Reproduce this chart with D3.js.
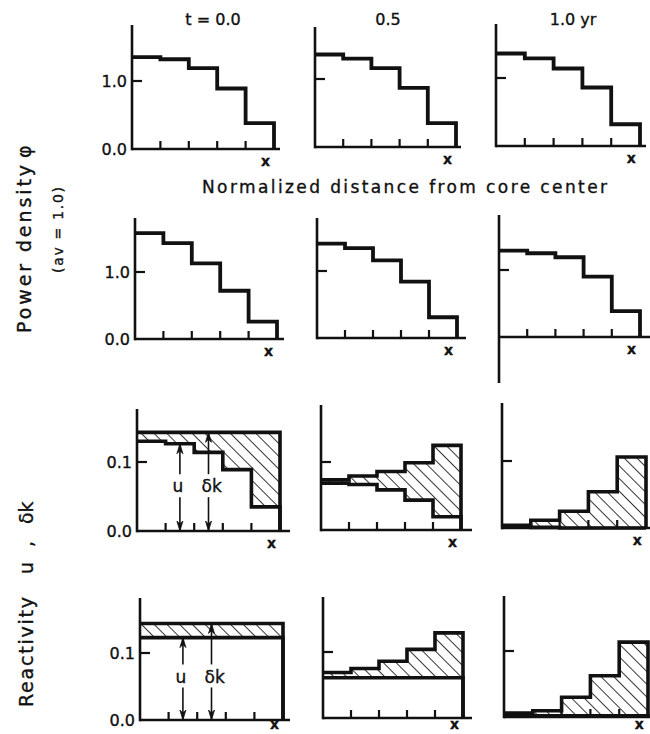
<!DOCTYPE html>
<html>
<head>
<meta charset="utf-8">
<script src="https://cdn.jsdelivr.net/npm/d3@7/dist/d3.min.js"></script>
<style>
  html, body { margin: 0; padding: 0; background: #fff; }
  svg { display: block; }
  text { font-family: "DejaVu Sans", "Liberation Sans", sans-serif; fill: #111; stroke: #111; stroke-width: 0.35px; }
</style>
</head>
<body>
<script>
// ---- data -------------------------------------------------------------
// five radial zones from core centre (0) to edge (x)
const zones = [0, 1, 2, 3, 4];
const timeLabels = ["t = 0.0", "0.5", "1.0 yr"];

const phiTickValues = [0.0, 1.0];
const phiTickLabels = ["0.0", "1.0"];
const reactTickValues = [0.0, 0.1];
const reactTickLabels = ["0.0", "0.1"];

// power density, first scheme (columns: t = 0.0, 0.5, 1.0 yr)
const phiFirst = [
  [1.35, 1.32, 1.19, 0.89, 0.38],
  [1.36, 1.30, 1.16, 0.87, 0.35],
  [1.36, 1.29, 1.14, 0.86, 0.32]
];
// power density, second scheme
const phiSecond = [
  [1.58, 1.43, 1.13, 0.72, 0.26],
  [1.41, 1.34, 1.16, 0.84, 0.31],
  [1.29, 1.25, 1.19, 0.90, 0.385]
];
// reactivity, first scheme: u (lower) and δk (upper)
const uFirst = [
  [0.130, 0.1265, 0.114, 0.089, 0.035],
  [0.069, 0.067, 0.059, 0.044, 0.0195],
  [0.002, 0.001, 0.000, 0.000, 0.000]
];
const dkFirst = [
  [0.143, 0.143, 0.143, 0.143, 0.143],
  [0.074, 0.0795, 0.086, 0.099, 0.1245],
  [0.004, 0.0115, 0.025, 0.054, 0.106]
];
// reactivity, second scheme
const uSecond = [
  [0.123, 0.123, 0.123, 0.123, 0.123],
  [0.061, 0.061, 0.061, 0.061, 0.061],
  [0.002, 0.002, 0.002, 0.002, 0.002]
];
const dkSecond = [
  [0.144, 0.144, 0.144, 0.144, 0.144],
  [0.069, 0.075, 0.086, 0.104, 0.129],
  [0.006, 0.0095, 0.030, 0.0625, 0.1134]
];

// ---- layout -------------------------------------------------------------
// per panel: y-axis x, right edge of last zone, baseline y, y of upper tick,
// top of y-axis, right end of x-axis
const frames = [
  [ {x0:132, x1:274, base:149, tickY:81,  top:25,  xEnd:280},
    {x0:315, x1:456, base:147, tickY:79,  top:27,  xEnd:461},
    {x0:496, x1:640, base:146, tickY:78,  top:24,  xEnd:646} ],
  [ {x0:135, x1:277, base:339, tickY:272, top:218, xEnd:284},
    {x0:317, x1:457, base:338, tickY:271, top:218, xEnd:466},
    {x0:499, x1:640, base:337, tickY:270, top:215, xEnd:650, axisBottom:383} ],
  [ {x0:137, x1:280, base:531, tickY:462, top:409, xEnd:290},
    {x0:321, x1:461, base:530, tickY:462, top:405, xEnd:472},
    {x0:502, x1:646, base:528, tickY:461, top:403, xEnd:650} ],
  [ {x0:140, x1:283, base:720, tickY:653, top:598, xEnd:290},
    {x0:323, x1:463, base:718, tickY:652, top:597, xEnd:472},
    {x0:504, x1:648, base:717, tickY:651, top:596, xEnd:650} ]
];
const titleX = [213, 388, 573];

const INK = "#111";
const svg = d3.select("body").append("svg")
  .attr("width", 650).attr("height", 734);

// diagonal hatching for the band between u and δk
const defs = svg.append("defs");
defs.append("pattern")
  .attr("id", "hatch")
  .attr("patternUnits", "userSpaceOnUse")
  .attr("width", 9).attr("height", 9)
  .attr("patternTransform", "rotate(-45)")
  .append("line")
  .attr("x1", 0).attr("y1", 0).attr("x2", 0).attr("y2", 9)
  .attr("stroke", INK).attr("stroke-width", 1.7);

function makeScales(f, tickVal) {
  const x = d3.scaleLinear().domain([0, zones.length]).range([f.x0, f.x1]);
  const y = d3.scaleLinear().domain([0, tickVal]).range([f.base, f.tickY]);
  return {x, y};
}

function drawFrame(g, f, sc, tickVals, tickLabels, withLabels) {
  // x axis with zone boundary ticks
  g.append("line")
    .attr("x1", f.x0).attr("x2", f.xEnd)
    .attr("y1", f.base).attr("y2", f.base)
    .attr("stroke", INK).attr("stroke-width", 2.6);
  g.selectAll(".xt").data(zones.slice(1)).enter().append("line")
    .attr("x1", d => sc.x(d)).attr("x2", d => sc.x(d))
    .attr("y1", f.base).attr("y2", f.base - 8)
    .attr("stroke", INK).attr("stroke-width", 2.2);
  // y axis with inward tick
  g.append("line")
    .attr("x1", f.x0).attr("x2", f.x0)
    .attr("y1", f.top).attr("y2", f.axisBottom || f.base + 1.3)
    .attr("stroke", INK).attr("stroke-width", 2.6);
  g.append("line")
    .attr("x1", f.x0).attr("x2", f.x0 + 10)
    .attr("y1", sc.y(tickVals[1])).attr("y2", sc.y(tickVals[1]))
    .attr("stroke", INK).attr("stroke-width", 2.2);
  if (withLabels) {
    g.selectAll(".yl").data(tickVals).enter().append("text")
      .attr("x", f.x0 - 5)
      .attr("y", d => sc.y(d))
      .attr("dy", "0.36em")
      .attr("text-anchor", "end")
      .attr("font-size", 16)
      .text((d, i) => tickLabels[i]);
  }
  g.append("text")
    .attr("x", f.x0 + 0.94 * (f.x1 - f.x0))
    .attr("y", Math.min(f.base + 17, 729))
    .attr("text-anchor", "middle")
    .attr("font-size", 14)
    .attr("font-weight", "bold")
    .text("x");
}

// step profile over the zones, dropping to zero at the core edge
function stepPoints(vals) {
  const pts = vals.map((v, i) => [zones[i], v]);
  pts.push([zones.length, vals[vals.length - 1]]);
  pts.push([zones.length, 0]);
  return pts;
}

function drawPhi(rowIdx, data) {
  data.forEach((vals, c) => {
    const f = frames[rowIdx][c];
    const sc = makeScales(f, phiTickValues[1]);
    const g = svg.append("g");
    drawFrame(g, f, sc, phiTickValues, phiTickLabels, c === 0);
    const line = d3.line().x(d => sc.x(d[0])).y(d => sc.y(d[1])).curve(d3.curveStepAfter);
    g.append("path")
      .attr("d", line(stepPoints(vals)))
      .attr("fill", "none").attr("stroke", INK)
      .attr("stroke-width", 3.8).attr("stroke-linejoin", "miter");
  });
}

function drawArrow(g, x, yFrom, yTo) {
  g.append("line")
    .attr("x1", x).attr("x2", x).attr("y1", yFrom).attr("y2", yTo)
    .attr("stroke", INK).attr("stroke-width", 1.6);
  const dir = yTo < yFrom ? 1 : -1;
  g.append("path")
    .attr("d", `M${x},${yTo} L${x - 3},${yTo + dir * 10} L${x},${yTo + dir * 7} L${x + 3},${yTo + dir * 10} Z`)
    .attr("fill", INK).attr("stroke", INK).attr("stroke-width", 0.8);
}

function drawReact(rowIdx, uData, dkData) {
  uData.forEach((uVals, c) => {
    const dkVals = dkData[c];
    const f = frames[rowIdx][c];
    const sc = makeScales(f, reactTickValues[1]);
    const g = svg.append("g");
    drawFrame(g, f, sc, reactTickValues, reactTickLabels, c === 0);

    const band = uVals.map((u, i) => ({x: zones[i], u, dk: dkVals[i]}));
    band.push({x: zones.length, u: uVals[uVals.length - 1], dk: dkVals[dkVals.length - 1]});
    const area = d3.area()
      .x(d => sc.x(d.x)).y0(d => sc.y(d.u)).y1(d => sc.y(d.dk))
      .curve(d3.curveStepAfter);
    g.append("path").attr("d", area(band)).attr("fill", "url(#hatch)");

    const line = d3.line().x(d => sc.x(d[0])).y(d => sc.y(d[1])).curve(d3.curveStepAfter);
    [uVals, dkVals].forEach(vals => {
      g.append("path")
        .attr("d", line(stepPoints(vals)))
        .attr("fill", "none").attr("stroke", INK)
        .attr("stroke-width", 3.6).attr("stroke-linejoin", "miter");
    });

    if (c === 0) {
      // u and δk read upward from the axis at the 2nd and 3rd zone
      const labelY = sc.y(0.065);
      const ux = sc.x(1.5), dx = sc.x(2.5);
      drawArrow(g, ux, labelY - 12, sc.y(uVals[1]));
      drawArrow(g, ux, labelY + 11, sc.y(0));
      drawArrow(g, dx, labelY - 12, sc.y(dkVals[2]));
      drawArrow(g, dx, labelY + 11, sc.y(0));
      g.append("text").attr("x", ux - 2).attr("y", labelY)
        .attr("dy", "0.36em").attr("text-anchor", "middle")
        .attr("font-size", 17).text("u");
      g.append("text").attr("x", dx - 7).attr("y", labelY)
        .attr("dy", "0.36em").attr("text-anchor", "start")
        .attr("font-size", 17).text("δk");
    }
  });
}

drawPhi(0, phiFirst);
drawPhi(1, phiSecond);
drawReact(2, uFirst, dkFirst);
drawReact(3, uSecond, dkSecond);

// column headings
svg.selectAll(".ttl").data(timeLabels).enter().append("text")
  .attr("x", (d, i) => titleX[i]).attr("y", 25)
  .attr("text-anchor", "middle").attr("font-size", 16)
  .text(d => d);

// abscissa caption between the two power-density rows
svg.append("text")
  .attr("x", 202).attr("y", 193)
  .attr("font-size", 17)
  .attr("textLength", 405).attr("lengthAdjust", "spacing")
  .text("Normalized distance from core center");

// vertical axis captions
function vText(x, y, str, size, len) {
  const t = svg.append("text")
    .attr("transform", `translate(${x},${y}) rotate(-90)`)
    .attr("font-size", size).text(str);
  if (len) t.attr("textLength", len).attr("lengthAdjust", "spacing");
  return t;
}
vText(31, 333, "Power density", 19, 168);
vText(31, 158, "φ", 19);
vText(63, 273, "(av = 1.0)", 14, 86);
vText(33, 707, "Reactivity", 19, 110);
vText(33, 574, "u", 19);
vText(33, 547, ",", 19);
vText(33, 524, "δk", 19);
</script>
</body>
</html>
